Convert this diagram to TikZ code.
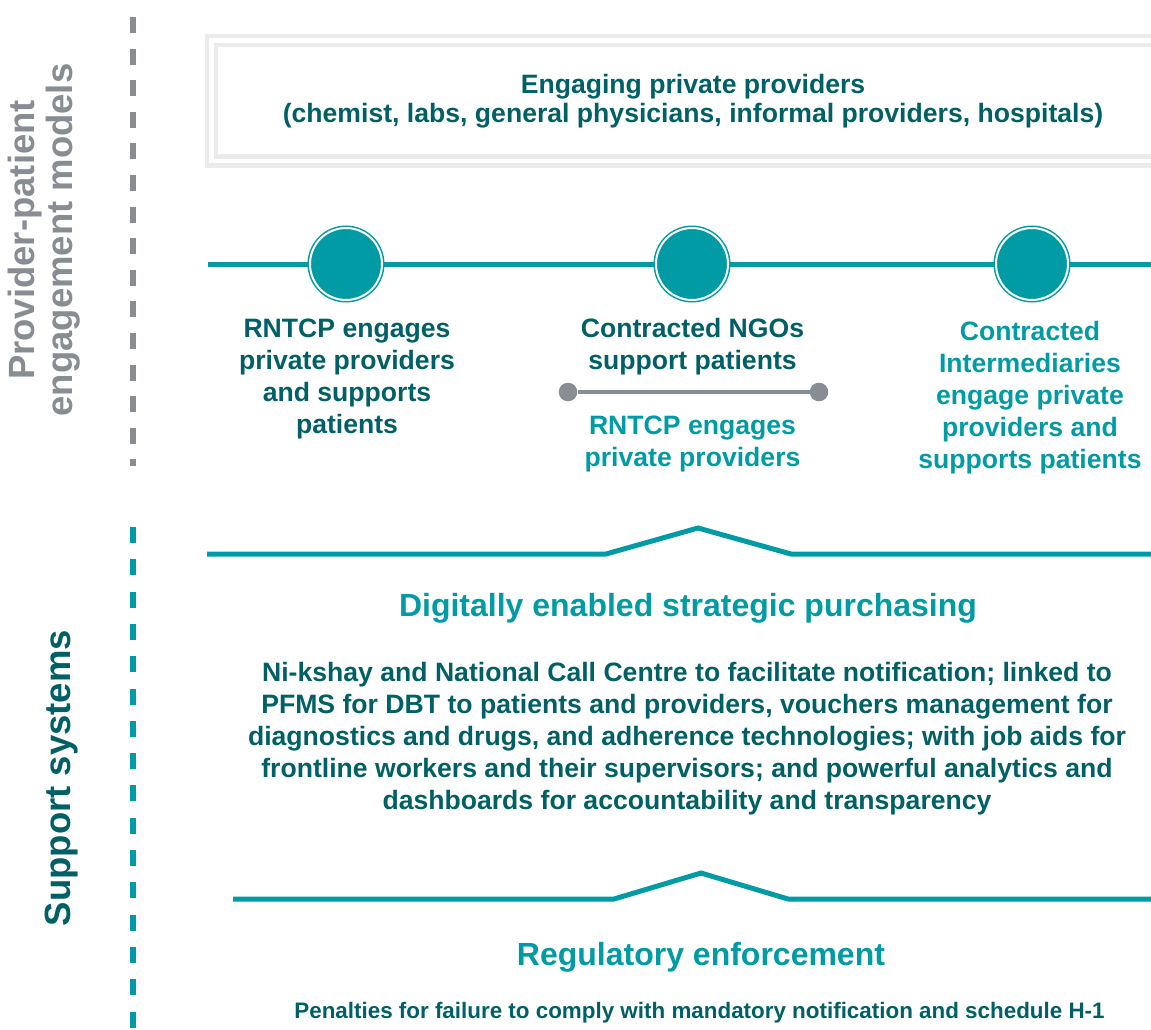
\documentclass[tikz,border=0pt]{standalone}
\usepackage{fontspec}
\setmainfont{Liberation Sans}
\definecolor{tealc}{RGB}{0,155,164}
\definecolor{darkteal}{RGB}{0,96,102}
\definecolor{grayc}{RGB}{136,140,147}
\definecolor{boxgray}{RGB}{235,235,235}
\begin{document}
\begin{tikzpicture}[x=1pt,y=-1pt,
  body/.style={font=\fontsize{26.6}{32}\selectfont\bfseries, align=center, inner sep=0pt},
  head/.style={font=\fontsize{32}{38}\selectfont\bfseries, tealc, inner sep=0pt, anchor=base},
  side/.style={font=\fontsize{36.5}{38}\selectfont\bfseries, align=center, inner sep=0pt, rotate=90},
  bigdot/.style={circle, minimum size=72pt, inner sep=0pt, fill=tealc, draw=tealc,
                 line width=1.5pt, double=white, double distance=2pt},
  gdot/.style={circle, minimum size=18.6pt, inner sep=0pt, fill=grayc},
  tline/.style={tealc, line width=5pt},
  zig/.style={tealc, line width=5pt, line join=miter}]
\useasboundingbox (0,0) rectangle (1151,1030);

% side dashed separators
\coordinate (gs) at (133,17);
\coordinate (ge) at (133,466);
\draw[grayc, line width=6pt, dash pattern=on 16pt off 15.6pt] (gs) -- (ge);
\coordinate (ts) at (133,527);
\coordinate (te) at (133,1030);
\draw[tealc, line width=6pt, dash pattern=on 16pt off 16.3pt] (ts) -- (te);

% side labels
\node[side, grayc] (pl) at (44,240) {Provider-patient\\engagement models};
\node[side, darkteal] (ss) at (61.5,778) {Support systems};

% top box
\draw[boxgray, line width=4.5pt] (207,36.2) rectangle (1170,165.7);
\draw[boxgray, line width=4.5pt] (216,45) rectangle (1170,156.3);
\node[body, darkteal, font=\fontsize{26.6}{29.5}\selectfont\bfseries] (top) at (693,101)
  {Engaging private providers\\(chemist, labs, general physicians, informal providers, hospitals)};

% timeline
\coordinate (L) at (208,264);
\coordinate (R) at (1151,264);
\node[bigdot] (c1) at (346,264) {};
\node[bigdot] (c2) at (692,264) {};
\node[bigdot] (c3) at (1032,264) {};
\draw[tline] (L) -- (c1) (c1) -- (c2) (c2) -- (c3) (c3) -- (R);

\node[body, darkteal] (t1) at (347,379)
  {RNTCP engages\\private providers\\and supports\\patients};
\node[body, darkteal] (t2a) at (692.5,347)
  {Contracted NGOs\\support patients};
\node[gdot] (g1) at (568,392) {};
\node[gdot] (g2) at (819,392) {};
\draw[grayc, line width=3.5pt] (g1) -- (g2);
\node[body, tealc] (t2b) at (692.5,444)
  {RNTCP engages\\private providers};
\node[body, tealc] (t3) at (1030,398)
  {Contracted\\Intermediaries\\engage private\\providers and\\supports patients};

% zigzag 1
\coordinate (z1a) at (207,554);
\coordinate (z1b) at (606,554);
\coordinate (z1c) at (698,528);
\coordinate (z1d) at (791,554);
\coordinate (z1e) at (1151,554);
\draw[zig] (z1a) -- (z1b) -- (z1c) -- (z1d) -- (z1e);

\node[head] (h1) at (688,616) {Digitally enabled strategic purchasing};
\node[body, darkteal] (b1) at (687,739)
  {Ni-kshay and National Call Centre to facilitate notification; linked to\\
   PFMS for DBT to patients and providers, vouchers management for\\
   diagnostics and drugs, and adherence technologies; with job aids for\\
   frontline workers and their supervisors; and powerful analytics and\\
   dashboards for accountability and transparency};

% zigzag 2
\coordinate (z2a) at (233,899);
\coordinate (z2b) at (614,899);
\coordinate (z2c) at (701,873);
\coordinate (z2d) at (788,899);
\coordinate (z2e) at (1151,899);
\draw[zig] (z2a) -- (z2b) -- (z2c) -- (z2d) -- (z2e);

\node[head] (h2) at (701,965) {Regulatory enforcement};
\node[font=\fontsize{22.4}{27}\selectfont\bfseries, darkteal, inner sep=0pt, anchor=base] (p1)
  at (699.5,1018) {Penalties for failure to comply with mandatory notification and schedule H-1};
\end{tikzpicture}
\end{document}
